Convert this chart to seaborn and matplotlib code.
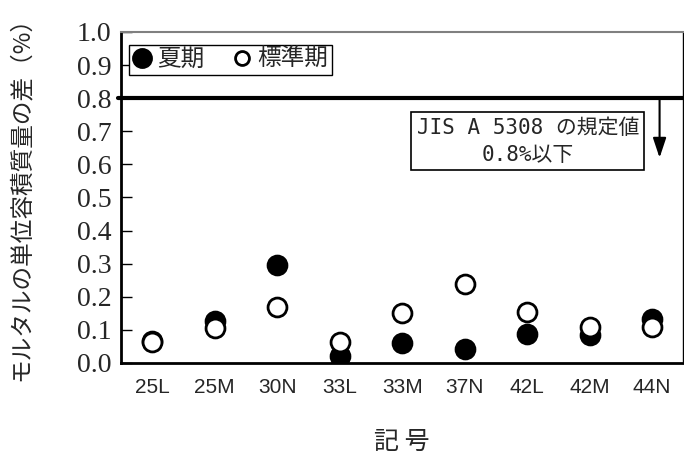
import pandas as pd
import matplotlib.pyplot as plt
import seaborn as sns
from matplotlib.lines import Line2D

# data
codes = ['25L', '25M', '30N', '33L', '33M', '37N', '42L', '42M', '44N']
summer = [0.065, 0.127, 0.297, 0.020, 0.060, 0.043, 0.087, 0.085, 0.132]
standard = [0.064, 0.105, 0.170, 0.064, 0.152, 0.238, 0.154, 0.110, 0.110]
limit = 0.8
yticks = [0.0, 0.1, 0.2, 0.3, 0.4, 0.5, 0.6, 0.7, 0.8, 0.9, 1.0]

df = pd.DataFrame({'code': codes, 'summer': summer, 'standard': standard})
df['x'] = range(len(codes))

sns.set_style("white")
jp = ['Noto Sans CJK JP', 'DejaVu Sans']
plt.rcParams['font.family'] = jp

fig = plt.figure(figsize=(6.84, 4.61), dpi=100)
ax = fig.add_axes([0.177, 0.2126, 0.822, 0.718])

ms = 185
sns.scatterplot(data=df, x='x', y='summer', ax=ax, s=ms, color='black',
                edgecolor='black', linewidth=2, zorder=3)
sns.scatterplot(data=df, x='x', y='standard', ax=ax, s=ms, facecolor='white',
                edgecolor='black', linewidth=2, zorder=4)

# limit line
ax.axhline(limit, xmin=-0.006, xmax=1, color='black', lw=3, clip_on=False, zorder=2)

ax.set_xlim(-0.5, len(codes) - 0.5)
ax.set_ylim(0, 1.0)

ax.set_xticks(df['x'])
ax.set_xticklabels(codes, family=['Liberation Sans', 'DejaVu Sans'], fontsize=15)
ax.set_xticks([i - 0.5 for i in range(1, len(codes))], minor=True)
ax.tick_params(axis='x', which='major', length=0, pad=11)
ax.tick_params(axis='x', which='minor', direction='in', length=7, width=1, color='black')

ax.set_yticks(yticks)
ax.set_yticklabels([f'{v:.1f}' for v in yticks],
                   family=['Liberation Serif', 'DejaVu Serif'], fontsize=20)
ax.tick_params(axis='y', direction='in', length=8, width=1, color='black', left=True, pad=7)

for side in ['left', 'bottom']:
    ax.spines[side].set_color('black')
    ax.spines[side].set_linewidth(2)
ax.spines['top'].set_color('#808080')
ax.spines['top'].set_linewidth(1.5)
ax.spines['right'].set_color('black')
ax.spines['right'].set_linewidth(1)

ax.set_xlabel('記 号', fontsize=18)
ax.xaxis.set_label_coords(0.5, -0.2)
ax.set_ylabel('モルタルの単位容積質量の差（%）', fontsize=17, va='center')
ax.yaxis.set_label_coords(-0.178, 0.515)

handles = [
    Line2D([], [], marker='o', linestyle='', markersize=13, markerfacecolor='black',
           markeredgecolor='black', markeredgewidth=2),
    Line2D([], [], marker='o', linestyle='', markersize=10, markerfacecolor='white',
           markeredgecolor='black', markeredgewidth=2),
]
leg = ax.legend(handles, ['夏期', '標準期'], loc='upper left', ncol=2, fontsize=17,
                frameon=True, fancybox=False, edgecolor='black', framealpha=1,
                handlelength=0.8, handletextpad=0.25, columnspacing=1.2,
                borderpad=0.15, borderaxespad=0.0, bbox_to_anchor=(0.014, 0.962))
leg.get_frame().set_linewidth(1)

ax.text(6.01, 0.67, 'JIS A 5308 の規定値\n0.8%以下', ha='center', va='center',
        family=['DejaVu Sans Mono', 'Noto Sans CJK JP'],
        fontsize=15, linespacing=1.45,
        bbox=dict(boxstyle='square,pad=0.25', facecolor='white', edgecolor='black', lw=1.2))
ax.annotate('', xy=(8.12, 0.62), xytext=(8.12, 0.8),
            arrowprops=dict(arrowstyle='-|>,head_width=0.4,head_length=1.2',
                            color='black', lw=1.5, shrinkA=0, shrinkB=0))

fig.savefig('out.png', dpi=100)
